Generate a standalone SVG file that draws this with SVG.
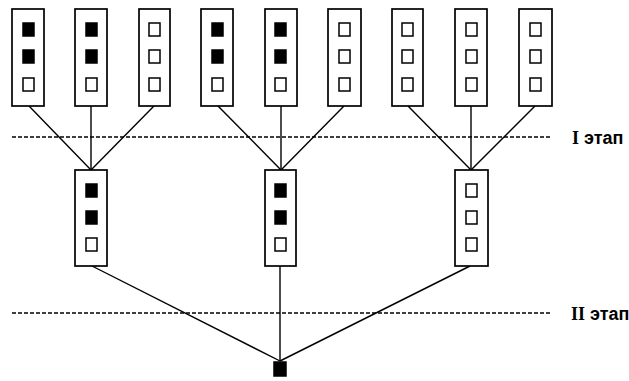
<svg xmlns="http://www.w3.org/2000/svg" width="629" height="381" viewBox="0 0 629 381">
<defs>
<style>
.box{fill:#fff;stroke:#000;stroke-width:1.7}
.on{fill:#000;stroke:#000;stroke-width:1.5}
.off{fill:#fff;stroke:#000;stroke-width:1.5}
.ln{stroke:#000;stroke-width:1.4;fill:none}
.dash{stroke:#000;stroke-width:1.4;stroke-dasharray:4 2;fill:none}
.lbl{font-family:"Liberation Sans",Arial,sans-serif;font-weight:bold;font-size:18px;fill:#000}
.rn{font-family:"Liberation Serif","Times New Roman",serif;font-weight:bold}
</style>
<g id="cellOn"><rect class="on" x="0" y="0" width="11" height="13"/></g>
<g id="cellOff"><rect class="off" x="0" y="0" width="11" height="13"/></g>
</defs>
<rect width="629" height="381" fill="#fff"/>
<g id="connectors">
<line class="ln" x1="29" y1="106" x2="91" y2="170"/>
<line class="ln" x1="91" y1="106" x2="91" y2="170"/>
<line class="ln" x1="154" y1="106" x2="91" y2="170"/>
<line class="ln" x1="218" y1="106" x2="281" y2="170"/>
<line class="ln" x1="281" y1="106" x2="281" y2="170"/>
<line class="ln" x1="344" y1="106" x2="281" y2="170"/>
<line class="ln" x1="408" y1="106" x2="471" y2="170"/>
<line class="ln" x1="471" y1="106" x2="471" y2="170"/>
<line class="ln" x1="535" y1="106" x2="471" y2="170"/>
<line class="ln" x1="92" y1="266" x2="280" y2="361"/>
<line class="ln" x1="280" y1="266" x2="280" y2="361"/>
<line class="ln" x1="470" y1="266" x2="280" y2="361"/>
</g>
<g id="stage1">
<line class="dash" x1="12" y1="137" x2="552" y2="137"/>
<text class="lbl" x="572" y="144"><tspan class="rn">I</tspan> этап</text>
</g>
<g id="stage2">
<line class="dash" x1="12" y1="313" x2="550" y2="313"/>
<text class="lbl" x="571" y="320"><tspan class="rn">II</tspan> этап</text>
</g>
<g id="t1"><rect class="box" x="12" y="9" width="32" height="97"/><use href="#cellOn" x="23" y="23"/><use href="#cellOn" x="23" y="50"/><use href="#cellOff" x="23" y="78"/></g>
<g id="t2"><rect class="box" x="75" y="9" width="32" height="97"/><use href="#cellOn" x="86" y="23"/><use href="#cellOn" x="86" y="50"/><use href="#cellOff" x="86" y="78"/></g>
<g id="t3"><rect class="box" x="139" y="9" width="31" height="97"/><use href="#cellOff" x="149" y="23"/><use href="#cellOff" x="149" y="50"/><use href="#cellOff" x="149" y="78"/></g>
<g id="t4"><rect class="box" x="201" y="9" width="32" height="97"/><use href="#cellOn" x="212" y="23"/><use href="#cellOn" x="212" y="50"/><use href="#cellOff" x="212" y="78"/></g>
<g id="t5"><rect class="box" x="265" y="9" width="32" height="97"/><use href="#cellOn" x="275" y="23"/><use href="#cellOn" x="275" y="50"/><use href="#cellOff" x="275" y="78"/></g>
<g id="t6"><rect class="box" x="328" y="9" width="33" height="97"/><use href="#cellOff" x="339" y="23"/><use href="#cellOff" x="339" y="50"/><use href="#cellOff" x="339" y="78"/></g>
<g id="t7"><rect class="box" x="392" y="9" width="31" height="97"/><use href="#cellOff" x="402" y="23"/><use href="#cellOff" x="402" y="50"/><use href="#cellOff" x="402" y="78"/></g>
<g id="t8"><rect class="box" x="455" y="9" width="32" height="97"/><use href="#cellOff" x="466" y="23"/><use href="#cellOff" x="466" y="50"/><use href="#cellOff" x="466" y="78"/></g>
<g id="t9"><rect class="box" x="519" y="9" width="33" height="97"/><use href="#cellOff" x="530" y="23"/><use href="#cellOff" x="530" y="50"/><use href="#cellOff" x="530" y="78"/></g>
<g id="m1"><rect class="box" x="75" y="170" width="32" height="96"/><use href="#cellOn" x="86" y="184"/><use href="#cellOn" x="86" y="211"/><use href="#cellOff" x="86" y="238"/></g>
<g id="m2"><rect class="box" x="265" y="170" width="31" height="96"/><use href="#cellOn" x="275" y="184"/><use href="#cellOn" x="275" y="211"/><use href="#cellOff" x="275" y="238"/></g>
<g id="m3"><rect class="box" x="455" y="170" width="33" height="96"/><use href="#cellOff" x="466" y="184"/><use href="#cellOff" x="466" y="211"/><use href="#cellOff" x="466" y="238"/></g>
<g id="result"><rect class="on" x="274" y="362" width="12" height="14"/></g>
</svg>
